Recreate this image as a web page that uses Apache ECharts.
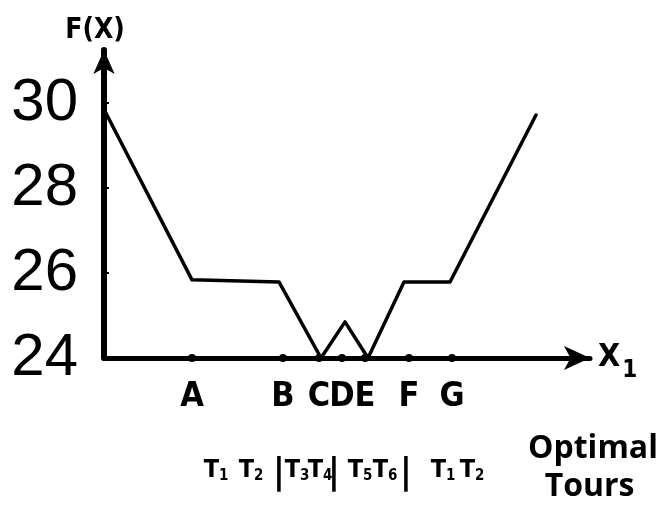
<!DOCTYPE html>
<html>
<head>
<meta charset="utf-8">
<script src="https://cdn.jsdelivr.net/npm/echarts@6/dist/echarts.min.js"></script>
<style>
  html, body { margin: 0; padding: 0; background: #fff; }
  #main { width: 660px; height: 513px; }
</style>
</head>
<body>
<div id="main"></div>
<script>
// curve F(X) along X1 (x in arbitrary units)
var curveX = [2, 88, 175, 217, 241, 264, 300, 346, 432];
var curveY = [29.76, 25.84, 25.79, 24.0, 24.85, 24.0, 25.79, 25.79, 29.72];

// points A..G marked on the X1 axis
var pointNames = ['A', 'B', 'C', 'D', 'E', 'F', 'G'];
var pointX = [88, 179, 215, 238, 261, 305, 348];

// optimal tours written under the axis
var tourLabels = ['T1', 'T2', '|', 'T3', 'T4', '|', 'T5', 'T6', '|', 'T1', 'T2'];
var tourX = [112, 147, 175, 193, 216, 230, 256, 281, 302, 339, 368];

var yTicks = [24, 26, 28, 30];

var font = '"Liberation Sans Narrow", "DejaVu Sans Condensed", "Liberation Sans", sans-serif';

var myChart = echarts.init(document.getElementById('main'));

var option = {
    animation: false,
    grid: { left: 104, right: 70, top: 50, bottom: 155 },
    xAxis: {
        type: 'value',
        min: 0,
        max: 486,
        name: '{x|X}{s|1}',
        nameLocation: 'end',
        nameGap: 8,
        nameTextStyle: {
            rich: {
                x: { fontSize: 32, fontFamily: font, fontWeight: 'bold', color: '#000' },
                s: { fontSize: 24, fontFamily: font, fontWeight: 'bold', color: '#000', padding: [26, 0, 0, 2] }
            }
        },
        axisLine: {
            show: true,
            symbol: ['none', 'arrow'],
            symbolSize: [18, 26],
            lineStyle: { color: '#000', width: 5 }
        },
        axisTick: { show: false },
        axisLabel: { show: false },
        splitLine: { show: false }
    },
    yAxis: {
        type: 'value',
        min: 24,
        max: 31.25,
        interval: 2,
        name: 'F(X)',
        nameLocation: 'end',
        nameGap: 5,
        nameTextStyle: { fontSize: 28, fontFamily: font, fontWeight: 'bold', color: '#000', padding: [0, 18, 0, 0] },
        axisLine: {
            show: true,
            symbol: ['none', 'arrow'],
            symbolSize: [16, 24],
            lineStyle: { color: '#000', width: 6 }
        },
        axisTick: { show: true, inside: true, length: 5, lineStyle: { color: '#000', width: 2 } },
        axisLabel: {
            showMaxLabel: false,
            margin: 26,
            fontSize: 60,
            fontFamily: '"Liberation Sans", sans-serif',
            color: '#000',
            formatter: function (v) { return yTicks.indexOf(v) >= 0 ? String(v) : ''; }
        },
        splitLine: { show: false }
    },
    graphic: [{
        type: 'text',
        left: 528,
        top: 430,
        style: {
            text: 'Optimal\n  Tours',
            fontSize: 32,
            lineHeight: 38,
            fontFamily: '"Open Sans", sans-serif',
            fontWeight: 'bold',
            fill: '#000'
        }
    }],
    series: [{
        type: 'line',
        data: curveX.map(function (x, i) { return [x, curveY[i]]; }),
        symbol: 'none',
        lineStyle: { color: '#000', width: 3.5, cap: 'round', join: 'round' },
        z: 3
    }, {
        type: 'scatter',
        data: pointX.map(function (x, i) { return { value: [x, 24], name: pointNames[i] }; }),
        symbol: 'circle',
        symbolSize: 8,
        itemStyle: { color: '#000', opacity: 1 },
        label: {
            show: true,
            position: 'bottom',
            distance: 18,
            formatter: '{b}',
            fontSize: 34,
            fontFamily: font,
            fontWeight: 'bold',
            color: '#000'
        },
        z: 4
    }, {
        type: 'scatter',
        data: tourX.map(function (x, i) { return { value: [x, 24], name: tourLabels[i] }; }),
        symbolSize: 0,
        itemStyle: { opacity: 1 },
        label: {
            show: true,
            position: 'bottom',
            distance: 98,
            formatter: function (p) {
                if (p.name === '|') return '{b||}';
                return '{t|T}{s|' + p.name.slice(1) + '}';
            },
            rich: {
                t: { fontSize: 25, fontFamily: font, fontWeight: 'bold', color: '#000' },
                s: { fontSize: 15, fontFamily: font, fontWeight: 'bold', color: '#000', padding: [13, 0, 0, 0] },
                b: { fontSize: 36, fontFamily: font, fontWeight: 'bold', color: '#000' }
            }
        },
        silent: true
    }]
};

myChart.setOption(option);
</script>
</body>
</html>
